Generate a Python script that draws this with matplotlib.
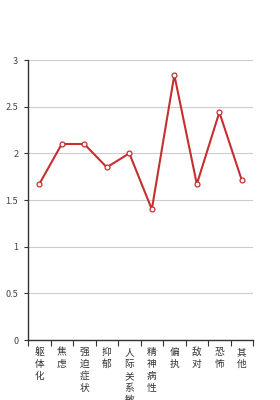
import matplotlib
matplotlib.use("Agg")
import matplotlib.pyplot as plt
import numpy as np

plt.rcParams['font.family'] = ['Noto Sans CJK SC', 'DejaVu Sans']

categories = ['躯体化', '焦虑', '强迫症状', '抑郁', '人际关系敏感', '精神病性', '偏执', '敌对', '恐怖', '其他']
values = [1.67, 2.10, 2.10, 1.85, 2.00, 1.40, 2.84, 1.67, 2.44, 1.71]
yticks = [0, 0.5, 1, 1.5, 2, 2.5, 3]
ytick_labels = ['0', '0.5', '1', '1.5', '2', '2.5', '3']

fig = plt.figure(figsize=(2.8, 4.0), dpi=100)
ax = fig.add_axes([0.1, 0.15, 0.804, 0.70])

x = np.arange(len(categories))
ax.plot(x, values, color='#c62f2f', linewidth=1.5, marker='o', markersize=3.5,
        markerfacecolor='white', markeredgecolor='#c62f2f', markeredgewidth=0.9, zorder=3)

ax.set_xlim(-0.5, len(categories) - 0.5)
ax.set_ylim(0, 3)
ax.set_yticks(yticks)
ax.set_yticklabels(ytick_labels, fontsize=6.5, color='#444444', style='italic')
ax.yaxis.grid(True, color='#cccccc', linewidth=0.8)
ax.set_axisbelow(True)

ax.set_xticks(x)
ax.set_xticklabels(['\n'.join(c) for c in categories], fontsize=7, color='#333333',
                   linespacing=1.25, va='top')
ax.tick_params(axis='x', which='major', length=0, pad=5)
ax.set_xticks(np.arange(-0.5, len(categories) + 0.5, 1), minor=True)
ax.tick_params(axis='x', which='minor', length=4, width=0.8, color='#333333', direction='out')
ax.tick_params(axis='y', length=3, width=0.8, color='#333333', pad=4)

for s in ['top', 'right']:
    ax.spines[s].set_visible(False)
for s in ['left', 'bottom']:
    ax.spines[s].set_color('#333333')
    ax.spines[s].set_linewidth(1.0)

fig.savefig('out.png', dpi=100)
